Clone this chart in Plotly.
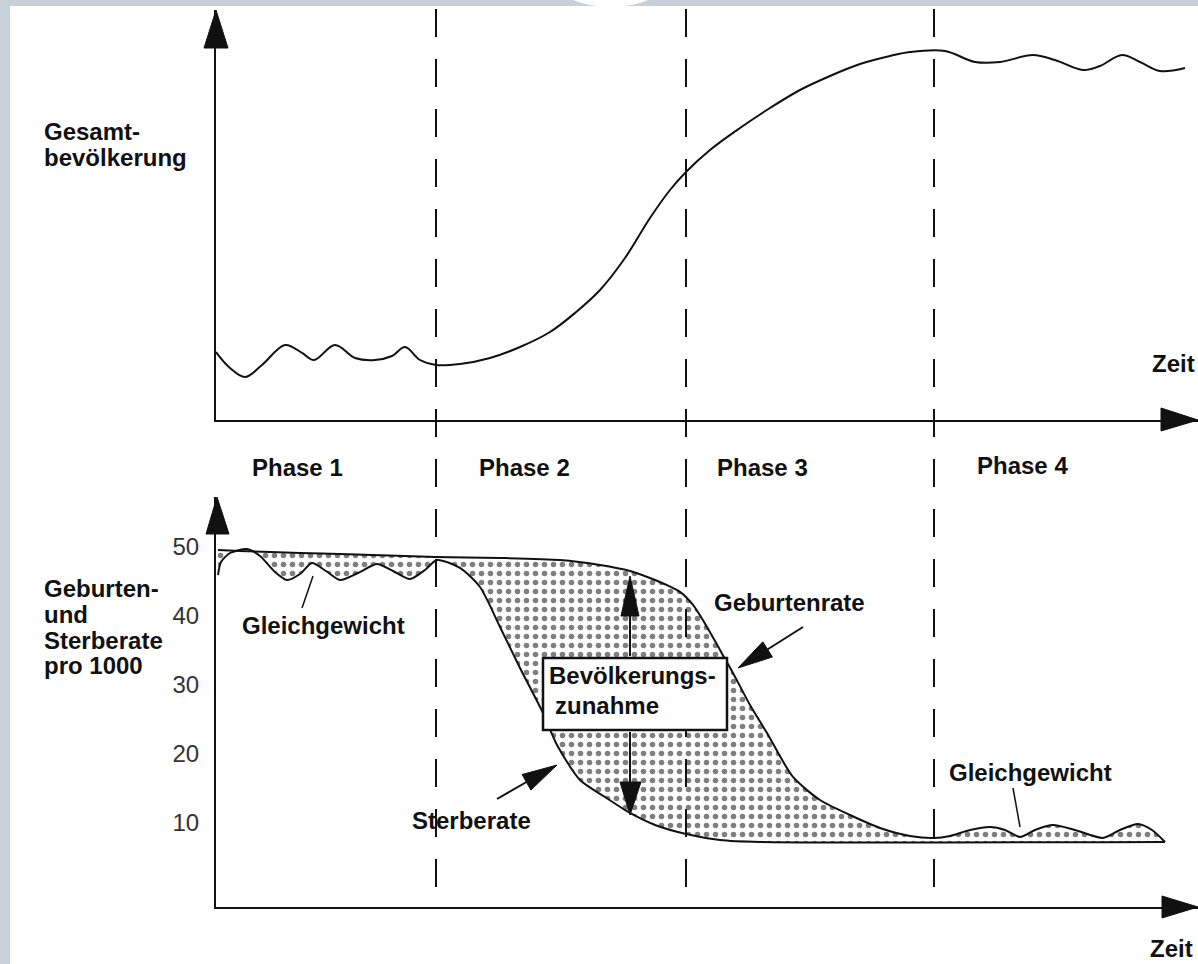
import plotly.graph_objects as go

W, H = 1198, 964

# ---------------- data ----------------
# time axis in arbitrary units (0 = origin of the axes)
phase_bounds = [22.0, 47.0, 71.8]
phase_labels = ["Phase 1", "Phase 2", "Phase 3", "Phase 4"]

# total population (index, arbitrary units)
pop_t = [0, 1.4, 2.9, 4.6, 6.9, 8.6, 9.8, 11.9, 13.9, 15.9, 17.6, 18.9, 20.4, 22, 24.4,
         27.4, 30.4, 33.4, 35.9, 38.4, 40.9, 43.4, 45.4, 47, 49.4, 52.4, 55.4, 58.4, 61.4,
         64.4, 67.4, 69.4, 72.9, 75.9, 78.4, 81.7, 83.9, 86.7, 88.4, 90.6, 92.4, 94.4, 96.9]
pop_v = [17, 13, 10.75, 13.75, 18.75, 16.8, 15, 18.75, 15.5, 15, 16, 18.25, 15, 13.75, 14,
         15.5, 18.25, 22, 26.75, 32.5, 40.5, 50.5, 57.5, 62, 67.5, 73, 78, 82.5, 86,
         89, 91, 92, 92.25, 89.5, 89.5, 91.25, 90, 87.5, 88.5, 91.25, 89.5, 87.25, 88]

# birth rate per 1000
birth_t = [0.2, 2.4, 8.4, 12.4, 22, 28.4, 34.4, 38.4, 41.4, 43.4, 44.9, 46.4, 47.7, 49.1,
           50.4, 51.7, 53.4, 55.1, 57.7, 60.4, 63.4, 66.4, 69.4, 71.8, 73.4, 75.4, 77.4,
           78.9, 80.4, 81.9, 83.7, 85.9, 88.7, 90.4, 92.2, 93.6, 94.9]
birth_r = [49.57, 49.42, 49.13, 48.99, 48.55, 48.41, 48.12, 47.39, 46.52, 45.5, 44.6,
           43.5, 41.6, 38.41, 35.07, 31.74, 27.1, 23.04, 16.67, 13.33, 11.16, 9.28, 8.12,
           7.83, 8.12, 8.99, 9.42, 8.99, 7.97, 8.99, 9.71, 8.99, 7.83, 8.99, 9.86, 8.99, 7.25]

# death rate per 1000
death_t = [0.2, 0.5, 1.4, 3.1, 4.4, 5.9, 7.1, 8.4, 9.6, 11.0, 12.4, 14.2, 16.1, 17.7, 19.4,
           20.9, 22.1, 24.4, 26.4, 28.4, 30.4, 32.7, 34.1, 36.4, 38.9, 41.4, 43.9, 47,
           50.4, 54.4, 94.9]
death_r = [45.94, 47.83, 49.13, 49.71, 48.70, 46.38, 45.22, 46.09, 47.68, 46.52, 45.22,
           46.23, 47.54, 46.52, 45.36, 46.67, 48.12, 46.96, 44.2, 38.41, 32.46, 25.94,
           21.3, 16.23, 13.77, 11.45, 9.71, 8.41, 7.54, 7.25, 7.25]

rate_ticks = [10, 20, 30, 40, 50]

# ---------------- helpers ----------------
def PX(x):
    return x / W


def PY(y):
    return 1 - y / H


FONT = "Liberation Sans, Arial, sans-serif"
INK = "#111111"

fig = go.Figure()

fig.add_trace(go.Scatter(x=pop_t, y=pop_v, mode="lines", xaxis="x", yaxis="y",
                         line=dict(color=INK, width=2, shape="spline", smoothing=1.0),
                         hoverinfo="skip"))
fig.add_trace(go.Scatter(x=death_t, y=death_r, mode="lines", xaxis="x2", yaxis="y2",
                         line=dict(color=INK, width=2, shape="spline", smoothing=0.7),
                         hoverinfo="skip"))
fig.add_trace(go.Scatter(x=birth_t, y=birth_r, mode="lines", xaxis="x2", yaxis="y2",
                         line=dict(color=INK, width=2, shape="spline", smoothing=0.7),
                         fill="tonexty",
                         fillpattern=dict(shape=".", fgcolor="black", bgcolor="white",
                                          size=9, solidity=0.3),
                         hoverinfo="skip"))

shapes = []
# frame strips of the scanned page
shapes.append(dict(type="rect", xref="paper", yref="paper", x0=0, x1=PX(10), y0=0, y1=1,
                   fillcolor="#c7d1d9", line=dict(width=0), layer="above"))
shapes.append(dict(type="rect", xref="paper", yref="paper", x0=0, x1=1, y0=PY(6), y1=1,
                   fillcolor="#c7d1d9", line=dict(width=0), layer="above"))
shapes.append(dict(type="path", xref="paper", yref="paper",
                   path=f"M {PX(573)},{PY(0)} Q {PX(590)},{PY(7)} {PX(610)},{PY(7)} "
                        f"Q {PX(632)},{PY(7)} {PX(648)},{PY(0)} Z",
                   fillcolor="white", line=dict(width=0), layer="above"))

# dashed phase boundaries
for b in phase_bounds:
    shapes.append(dict(type="line", xref="x", yref="paper", x0=b, x1=b, y0=PY(9), y1=PY(907),
                       line=dict(color=INK, width=2, dash="28px,22px"), layer="above"))


def tri(tip, b1, b2):
    return dict(type="path", xref="paper", yref="paper",
                path=f"M {PX(tip[0])},{PY(tip[1])} L {PX(b1[0])},{PY(b1[1])} "
                     f"L {PX(b2[0])},{PY(b2[1])} Z",
                fillcolor=INK, line=dict(color=INK, width=1), layer="above")


def seg(p, q, w=2):
    return dict(type="line", xref="paper", yref="paper", x0=PX(p[0]), y0=PY(p[1]),
                x1=PX(q[0]), y1=PY(q[1]), line=dict(color=INK, width=w), layer="above")


# axis arrowheads
shapes.append(tri((216, 10), (204, 48), (228, 48)))
shapes.append(tri((1198, 420), (1161, 408), (1161, 431)))
shapes.append(tri((217, 497), (206, 534), (229, 534)))
shapes.append(tri((1198, 907), (1162, 896), (1162, 918)))

# box
shapes.append(dict(type="rect", xref="paper", yref="paper", x0=PX(543), x1=PX(727),
                   y0=PY(730), y1=PY(658), fillcolor="white",
                   line=dict(color=INK, width=2.5), layer="above"))
# arrows from the box
shapes.append(seg((630, 656), (630, 610)))
shapes.append(tri((630, 576), (621, 616), (639, 616)))
shapes.append(seg((630, 732), (630, 790)))
shapes.append(tri((630, 815), (620, 782), (641, 782)))
# Geburtenrate arrow
shapes.append(seg((803, 627), (765, 651)))
shapes.append(tri((738, 668), (772.4, 657), (762.8, 641.8)))
# Sterberate arrow
shapes.append(seg((497, 799), (530, 780)))
shapes.append(tri((557, 765), (530.9, 790.1), (522.1, 774.5)))
# Gleichgewicht pointers
shapes.append(seg((302, 608), (313, 576), 1.5))
shapes.append(seg((1013, 788), (1020, 827), 1.5))

annotations = []


def txt(s, x, y, size=24, bold=True, color=INK):
    annotations.append(dict(text=f"<b>{s}</b>" if bold else s, x=PX(x), y=PY(y),
                            xref="paper", yref="paper", xanchor="left", yanchor="middle",
                            showarrow=False, font=dict(family=FONT, size=size, color=color)))


txt("Gesamt-", 42, 132)
txt("bevölkerung", 42, 158)
txt("Zeit", 1150, 363)
txt("Zeit", 1148, 948)
for lab, xx, yy in zip(phase_labels, [250, 477, 715, 975], [467, 467, 467, 465]):
    txt(lab, xx, yy)
txt("Geburten-", 42, 588)
txt("und", 42, 614)
txt("Sterberate", 42, 640)
txt("pro 1000", 42, 665)
txt("Gleichgewicht", 240, 625)
txt("Gleichgewicht", 947, 772)
txt("Geburtenrate", 712, 602)
txt("Sterberate", 410, 820)
txt("Bevölkerungs-", 547, 675)
txt("zunahme", 553, 705)

axis_common = dict(showgrid=False, zeroline=False, showline=True, linecolor=INK,
                   linewidth=2, ticks="", fixedrange=True)

fig.update_layout(
    width=W, height=H,
    margin=dict(l=0, r=0, t=0, b=0),
    paper_bgcolor="white", plot_bgcolor="white",
    showlegend=False,
    xaxis=dict(domain=[PX(216), 1], range=[0, 98.2], anchor="y", showticklabels=False,
               **axis_common),
    yaxis=dict(domain=[PY(420), PY(10)], range=[0, 102.5], anchor="x",
               showticklabels=False, **axis_common),
    xaxis2=dict(domain=[PX(216), 1], range=[0, 98.2], anchor="y2", showticklabels=False,
                **axis_common),
    yaxis2=dict(domain=[PY(907), PY(497)], range=[-2.174, 57.246], anchor="x2",
                tickvals=rate_ticks, ticktext=[str(v) for v in rate_ticks],
                tickfont=dict(family=FONT, size=24, color="#333333"),
                ticklabelstandoff=10, **axis_common),
    shapes=shapes,
    annotations=annotations,
)

fig.write_html(
    "out.html",
    config={"displayModeBar": False},
    post_script="document.body.style.margin='0';document.body.style.overflow='hidden';",
)
